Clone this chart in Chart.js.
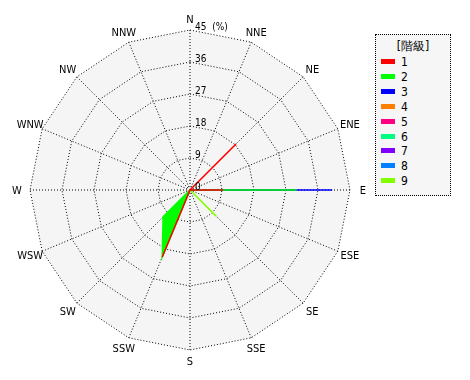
<!DOCTYPE html>
<html><head><meta charset="utf-8">
<script src="https://cdn.jsdelivr.net/npm/chart.js@4/dist/chart.umd.min.js"></script>
<style>
html,body{margin:0;padding:0;background:#fff;}
#wrap{position:relative;width:470px;height:380px;}
#c{position:absolute;left:0;top:0;}
#legend{position:absolute;left:375px;top:34px;width:76px;height:162px;border:1px dotted #000;background:#f6f6f6;font:12px "Liberation Sans Narrow","DejaVu Sans Condensed",sans-serif;color:#000;box-sizing:border-box;}
#legend .t{position:absolute;left:0;width:100%;top:3px;text-align:center;}
#legend .r{position:absolute;left:5px;height:13px;line-height:13px;}
#legend .s{display:inline-block;width:14px;height:5px;vertical-align:middle;margin-right:6px;position:relative;top:-1px;}
</style></head>
<body><div id="wrap"><canvas id="c" width="470" height="380"></canvas><div id="legend"></div></div>
<script>
const directions = ['N','NNE','NE','ENE','E','ESE','SE','SSE','S','SSW','SW','WSW','W','WNW','NW','NNW'];
const classNames = ['1','2','3','4','5','6','7','8','9'];
const classColors = ['#ff0000','#00ff00','#0000ff','#ff8000','#ff0080','#00ff80','#8000ff','#0080ff','#80ff00'];
const tickValues = [0,9,18,27,36,45];
const legendTitle = '[階級]';
const unitLabel = '(%)';
//            N  NNE NE   ENE E    ESE SE   SSE S  SSW  SW   WSW W WNW NW NNW
const class1 = [0, 0, 18.3, 0, 9.3, 0, 0,    0, 0, 20.4, 0,   0, 0, 0, 0, 0];
const class2 = [0, 0, 0,    0, 30,  0, 0,    0, 0, 20.4, 10.7,0, 0, 0, 0, 0];
const class3 = [0, 0, 0,    0, 40,  0, 0,    0, 0, 0,    0,   0, 0, 0, 0, 0];
const class4 = [0, 0, 0,    0, 0,   0, 0,    0, 0, 0,    0,   0, 0, 0, 0, 0];
const class5 = [0, 0, 0,    0, 0,   0, 0,    0, 0, 0,    0,   0, 0, 0, 0, 0];
const class6 = [0, 0, 0,    0, 0,   0, 0,    0, 0, 0,    0,   0, 0, 0, 0, 0];
const class7 = [0, 0, 0,    0, 0,   0, 0,    0, 0, 0,    0,   0, 0, 0, 0, 0];
const class8 = [0, 0, 0,    0, 0,   0, 0,    0, 0, 0,    0,   0, 0, 0, 0, 0];
const class9 = [0, 0, 0,    0, 0,   0, 10.4, 0, 0, 0,    0,   0, 0, 0, 0, 0];
const classValues = [class1,class2,class3,class4,class5,class6,class7,class8,class9];

// legend
const lg = document.getElementById('legend');
const t = document.createElement('div'); t.className='t'; t.textContent = legendTitle; lg.appendChild(t);
classNames.forEach((n,i)=>{
  const r = document.createElement('div'); r.className='r'; r.style.top = (21 + i*14.9) + 'px';
  const s = document.createElement('span'); s.className='s'; s.style.background = classColors[i];
  r.appendChild(s); r.appendChild(document.createTextNode(n)); lg.appendChild(r);
});

const overlay = {
  id:'overlay',
  afterDraw(chart){
    const s = chart.scales.r, ctx = chart.ctx;
    ctx.save();
    ctx.fillStyle = '#000';
    ctx.font = '11px "Liberation Sans Narrow","DejaVu Sans Condensed",sans-serif';
    ctx.textBaseline = 'middle'; ctx.textAlign = 'center';
    directions.forEach((d,i)=>{
      const a = i*2*Math.PI/directions.length;
      const p = s.getPointPosition(i, s.drawingArea);
      ctx.fillText(d, p.x + Math.sin(a)*13, p.y - Math.cos(a)*11 + 1);
    });
    ctx.font = '10px "Liberation Sans Narrow","DejaVu Sans Condensed",sans-serif';
    ctx.textAlign = 'left';
    const mx = tickValues[tickValues.length-1];
    tickValues.forEach(v=>{
      const p = s.getPointPositionForValue(0, v);
      ctx.fillText(v === mx ? v + '  ' + unitLabel : String(v), p.x + 5, p.y - 3);
    });
    ctx.restore();
  }
};

new Chart(document.getElementById('c'), {
  type: 'radar',
  data: {
    labels: directions,
    datasets: classValues.map((vals,i)=>({
      label: classNames[i],
      data: vals,
      borderColor: classColors[i],
      backgroundColor: classColors[i],
      borderWidth: 1.5,
      fill: 'origin',
      pointRadius: 0,
      tension: 0
    }))
  },
  options: {
    responsive: false,
    animation: false,
    layout: {padding: 0},
    plugins: {legend: {display:false}, tooltip: {enabled:false}},
    scales: {
      r: {
        min: 0, max: 45,
        backgroundColor: '#f5f5f5',
        ticks: {display: false, stepSize: 9},
        pointLabels: {display: false},
        grid: {color: '#000', lineWidth: 1, circular: false},
        border: {dash: [1,2]},
        angleLines: {color: '#000', lineWidth: 1, borderDash: [1,2]},
        afterFit: (s) => { s.xCenter = 190; s.yCenter = 190; s.drawingArea = 160; }
      }
    }
  },
  plugins: [overlay]
});
</script></body></html>
